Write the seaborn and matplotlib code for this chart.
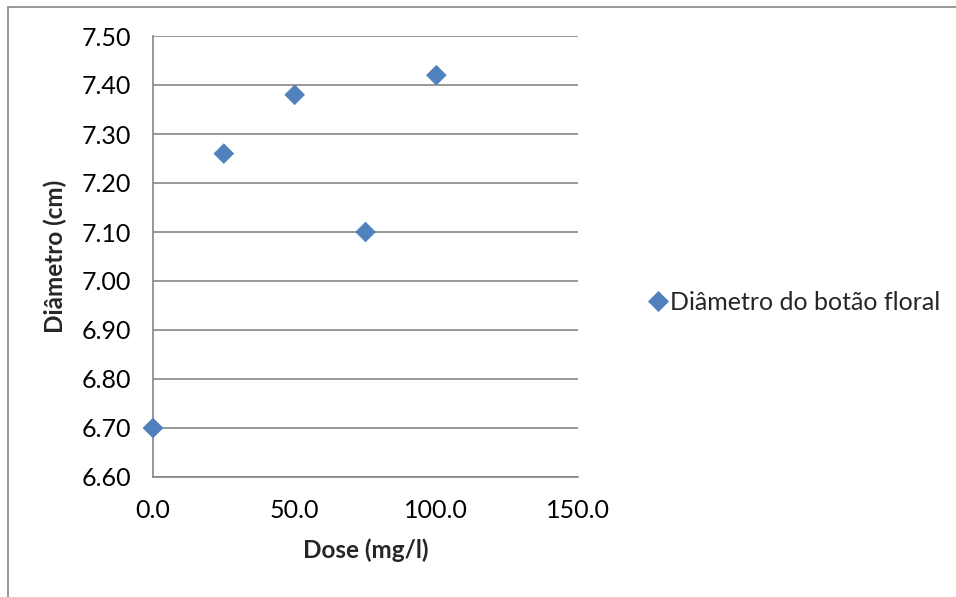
import matplotlib
matplotlib.use("Agg")
import matplotlib.pyplot as plt
import seaborn as sns
import pandas as pd
from matplotlib.patches import Rectangle

dose = [0.0, 25.0, 50.0, 75.0, 100.0]
diametro = [6.70, 7.26, 7.38, 7.10, 7.42]
series_name = "Diâmetro do botão floral"
x_ticks = [0.0, 50.0, 100.0, 150.0]
y_ticks = [6.60, 6.70, 6.80, 6.90, 7.00, 7.10, 7.20, 7.30, 7.40, 7.50]

df = pd.DataFrame({"Dose": dose, "Diametro": diametro, "Serie": series_name})

sns.set_theme(style="white")
plt.rcParams["font.family"] = ["Lato", "DejaVu Sans"]

fig = plt.figure(figsize=(9.56, 5.97), dpi=100)
ax = fig.add_axes([153/956, 1-477/597, (578-153)/956, (477-36)/597])

sns.scatterplot(data=df, x="Dose", y="Diametro", hue="Serie", palette=["#4F81BD"],
                marker="D", s=100, edgecolor="#4A7EBB", linewidth=0.5, ax=ax,
                zorder=3, clip_on=False)

ax.set_xlim(0, 150)
ax.set_ylim(6.60, 7.50)
ax.set_xticks(x_ticks)
ax.set_xticklabels([f"{v:.1f}" for v in x_ticks])
ax.set_yticks(y_ticks)
ax.set_yticklabels([f"{v:.2f}" for v in y_ticks])
ax.tick_params(axis="both", length=0, labelsize=18, colors="black")
ax.tick_params(axis="y", pad=16)
ax.tick_params(axis="x", pad=16)
ax.grid(axis="y", color="#868686", linewidth=1.2)
ax.grid(axis="x", visible=False)
for side in ["top", "right"]:
    ax.spines[side].set_visible(False)
for side in ["left", "bottom"]:
    ax.spines[side].set_color("#868686")
    ax.spines[side].set_linewidth(1.2)

ax.set_xlabel("Dose (mg/l)", fontsize=17.5, fontweight="bold", labelpad=12)
ax.set_ylabel("Diâmetro (cm)", fontsize=17.5, fontweight="bold", labelpad=10)

ax.get_legend().remove()
handles, labels = ax.get_legend_handles_labels()
fig.legend(handles, labels, loc="center left", bbox_to_anchor=(623/956, 1-302/597),
           frameon=False, fontsize=18, handletextpad=0.0, markerscale=1.0,
           handlelength=1.0)

fig.patches.append(Rectangle((8/956, -0.05), 1.0, 1-7/597+0.05,
                             transform=fig.transFigure, fill=False,
                             edgecolor="#868686", linewidth=1.2))

fig.savefig("out.png", dpi=100)
